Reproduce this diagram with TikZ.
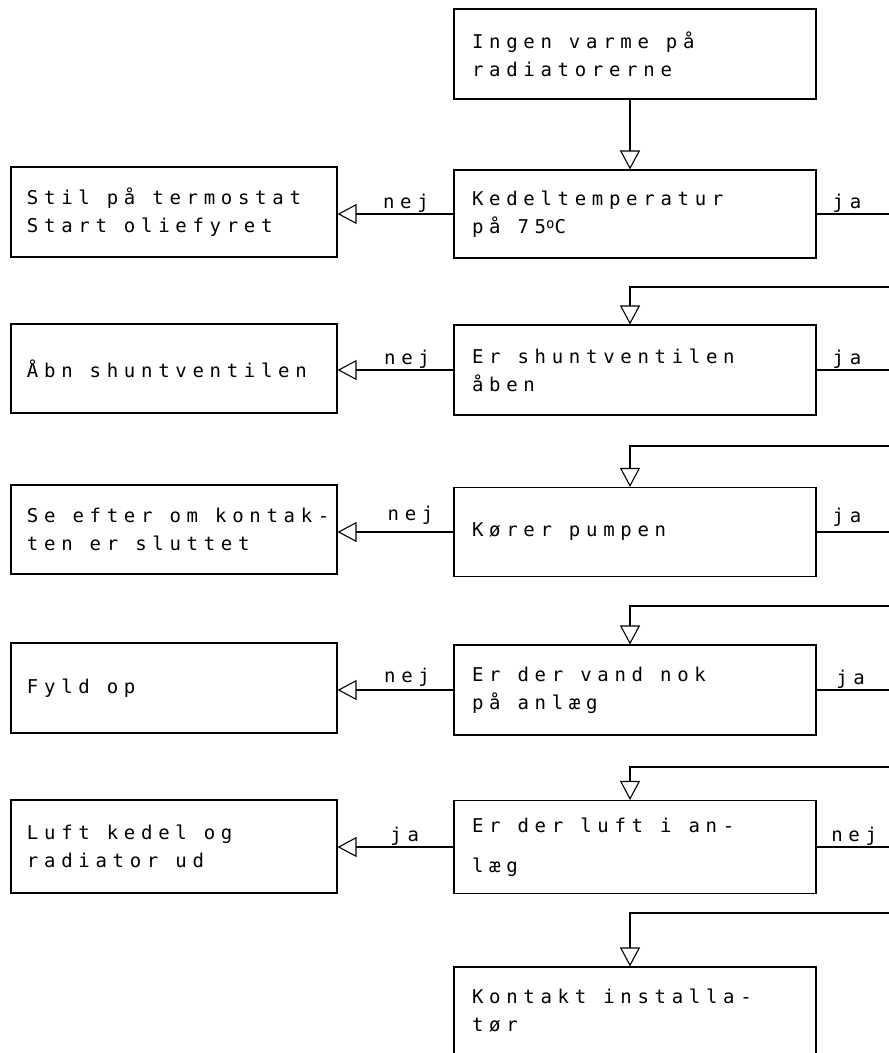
\documentclass[tikz,border=0pt]{standalone}
\usepackage{fontspec}
\newfontfamily\twfont[LetterSpace=30]{DejaVu Sans Mono}
\usetikzlibrary{arrows.meta}
\newcommand{\twsize}{\twfont\fontsize{19}{28}\selectfont}
\newcommand{\ws}{\hskip 17pt\relax}
\tikzset{
  box/.style={draw, line width=1.1pt, rectangle, align=left, inner ysep=0pt, font=\twsize},
  rbox/.style={box, text width=326pt, inner xsep=18pt, minimum height=#1},
  lbox/.style={box, text width=294pt, inner xsep=16pt, minimum height=#1},
  lab/.style={font=\twsize, inner sep=1pt, anchor=south},
  arr/.style={line width=1.1pt, -{Triangle[open, length=19pt, width=20pt, line width=1.1pt]}},
  ln/.style={line width=1.1pt}
}
\begin{document}
\begin{tikzpicture}[x=1pt, y=-1pt]
\useasboundingbox (0,0) rectangle (889,1053);
% right column
\node[rbox=90pt]  (b1) at (635,54)   {Ingen\ws varme\ws på\\radiatorerne};
\node[rbox=88pt]  (b2) at (635,214)  {Kedeltemperatur\\på\ws 75\raisebox{5pt}{\fontsize{14}{14}\selectfont o}C};
\node[rbox=90pt]  (b3) at (635,370)  {Er\ws shuntventilen\\åben};
\node[rbox=89pt]  (b4) at (635,532)  {Kører\ws pumpen};
\node[rbox=90pt]  (b5) at (635,690)  {Er\ws der\ws vand\ws nok\\på\ws anlæg};
\node[rbox=93pt]  (b6) at (635,847)  {Er\ws der\ws luft\ws i\ws an-\\[12pt]læg};
\node[rbox=88pt]  (b7) at (635,1011) {Kontakt\ws installa-\\tør};
% left column
\node[lbox=90pt]  (l2) at (174,212)   {Stil\ws på\ws termostat\\Start\ws oliefyret};
\node[lbox=89pt]  (l3) at (174,368.5) {Åbn\ws shuntventilen};
\node[lbox=89pt]  (l4) at (174,529.5) {\mbox{Se\ws efter\ws om\ws kontak-}\\ten\ws er\ws sluttet};
\node[lbox=90pt]  (l5) at (174,688)   {Fyld\ws op};
\node[lbox=93pt]  (l6) at (174,846.5) {Luft\ws kedel\ws og\\radiator\ws ud};
% right edge coordinates
\coordinate (r2) at (889,214);
\coordinate (r3) at (889,370);
\coordinate (r4) at (889,532);
\coordinate (r5) at (889,690);
\coordinate (r6) at (889,847);
\coordinate (e3) at (889,287);
\coordinate (e4) at (889,446);
\coordinate (e5) at (889,606);
\coordinate (e6) at (889,767);
\coordinate (e7) at (889,913);
% vertical flow
\draw[arr] ([xshift=-5pt]b1.south) -- ([xshift=-5pt]b2.north);
\draw[arr] (e3) -| ([xshift=-5pt]b3.north);
\draw[arr] (e4) -| ([xshift=-5pt]b4.north);
\draw[arr] (e5) -| ([xshift=-5pt]b5.north);
\draw[arr] (e6) -| ([xshift=-5pt]b6.north);
\draw[arr] (e7) -| ([xshift=-5pt]b7.north);
% left branches
\draw[arr] (b2.west) -- node[lab, pos=0.41]{nej} (b2.west -| l2.east);
\draw[arr] (b3.west) -- node[lab, pos=0.40]{nej} (b3.west -| l3.east);
\draw[arr] (b4.west) -- node[lab, pos=0.37, yshift=6pt]{nej} (b4.west -| l4.east);
\draw[arr] (b5.west) -- node[lab, pos=0.40, yshift=2pt]{nej} (b5.west -| l5.east);
\draw[arr] (b6.west) -- node[lab, pos=0.42]{ja} (b6.west -| l6.east);
% right branches
\draw[ln] (b2.east) -- node[lab, pos=0.42]{ja} (r2);
\draw[ln] (b3.east) -- node[lab, pos=0.42]{ja} (r3);
\draw[ln] (b4.east) -- node[lab, pos=0.42, yshift=4pt]{ja} (r4);
\draw[ln] (b5.east) -- node[lab, pos=0.47]{ja} (r5);
\draw[ln] (b6.east) -- node[lab, pos=0.52]{nej} (r6);
\end{tikzpicture}
\end{document}
